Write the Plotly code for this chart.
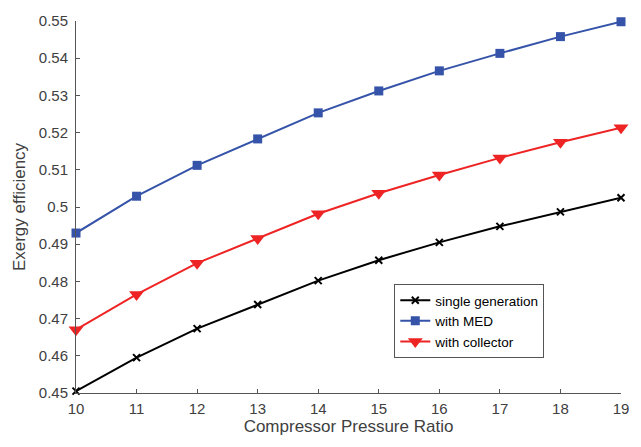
import plotly.graph_objects as go

ratio = [10, 11, 12, 13, 14, 15, 16, 17, 18, 19]
single_generation = [0.4505, 0.4595, 0.4673, 0.4738, 0.4802, 0.4857, 0.4905, 0.4948, 0.4987, 0.5025]
with_med = [0.4930, 0.5029, 0.5112, 0.5183, 0.5253, 0.5312, 0.5366, 0.5413, 0.5458, 0.5498]
with_collector = [0.4670, 0.4765, 0.4849, 0.4915, 0.4982, 0.5037, 0.5086, 0.5132, 0.5174, 0.5213]

FONT = "Liberation Sans, Arial"

fig = go.Figure()
fig.add_trace(go.Scatter(x=ratio, y=single_generation, name="single generation", mode="lines+markers",
                         line=dict(color="black", width=2),
                         marker=dict(symbol="x-thin", size=7, line=dict(color="black", width=2))))
fig.add_trace(go.Scatter(x=ratio, y=with_med, name="with MED", mode="lines+markers",
                         line=dict(color="#3553A8", width=2),
                         marker=dict(symbol="square", size=9, color="#3553A8")))
fig.add_trace(go.Scatter(x=ratio, y=with_collector, name="with collector", mode="lines+markers",
                         line=dict(color="#EE2424", width=2),
                         marker=dict(symbol="triangle-down", size=13, color="#EE2424")))

axis_common = dict(showline=True, linecolor="#555555", linewidth=1, ticks="inside", ticklen=4,
                   tickcolor="#555555", showgrid=False, zeroline=False,
                   tickfont=dict(family=FONT, size=15, color="#404040"),
                   mirror=False)

fig.update_layout(
    width=641, height=447,
    margin=dict(l=76, r=19, t=18, b=54),
    plot_bgcolor="white", paper_bgcolor="white",
    xaxis=dict(range=[10, 19], tickvals=ratio, ticklabelstandoff=2,
               title=dict(text="Compressor Pressure Ratio", standoff=4,
                          font=dict(family=FONT, size=17, color="#404040")), **axis_common),
    yaxis=dict(range=[0.45, 0.55], dtick=0.01, tickformat="~g", ticklabelstandoff=4,
               title=dict(text="Exergy efficiency", standoff=8,
                          font=dict(family=FONT, size=17, color="#404040")), **axis_common),
    legend=dict(x=0.584, y=0.293, xanchor="left", yanchor="top", bgcolor="white",
                bordercolor="#555555", borderwidth=1,
                font=dict(family=FONT, size=13.5, color="black"),
                tracegroupgap=0),
    showlegend=True,
)
for tr in fig.data:
    tr.cliponaxis = False

fig.write_html("out.html")
